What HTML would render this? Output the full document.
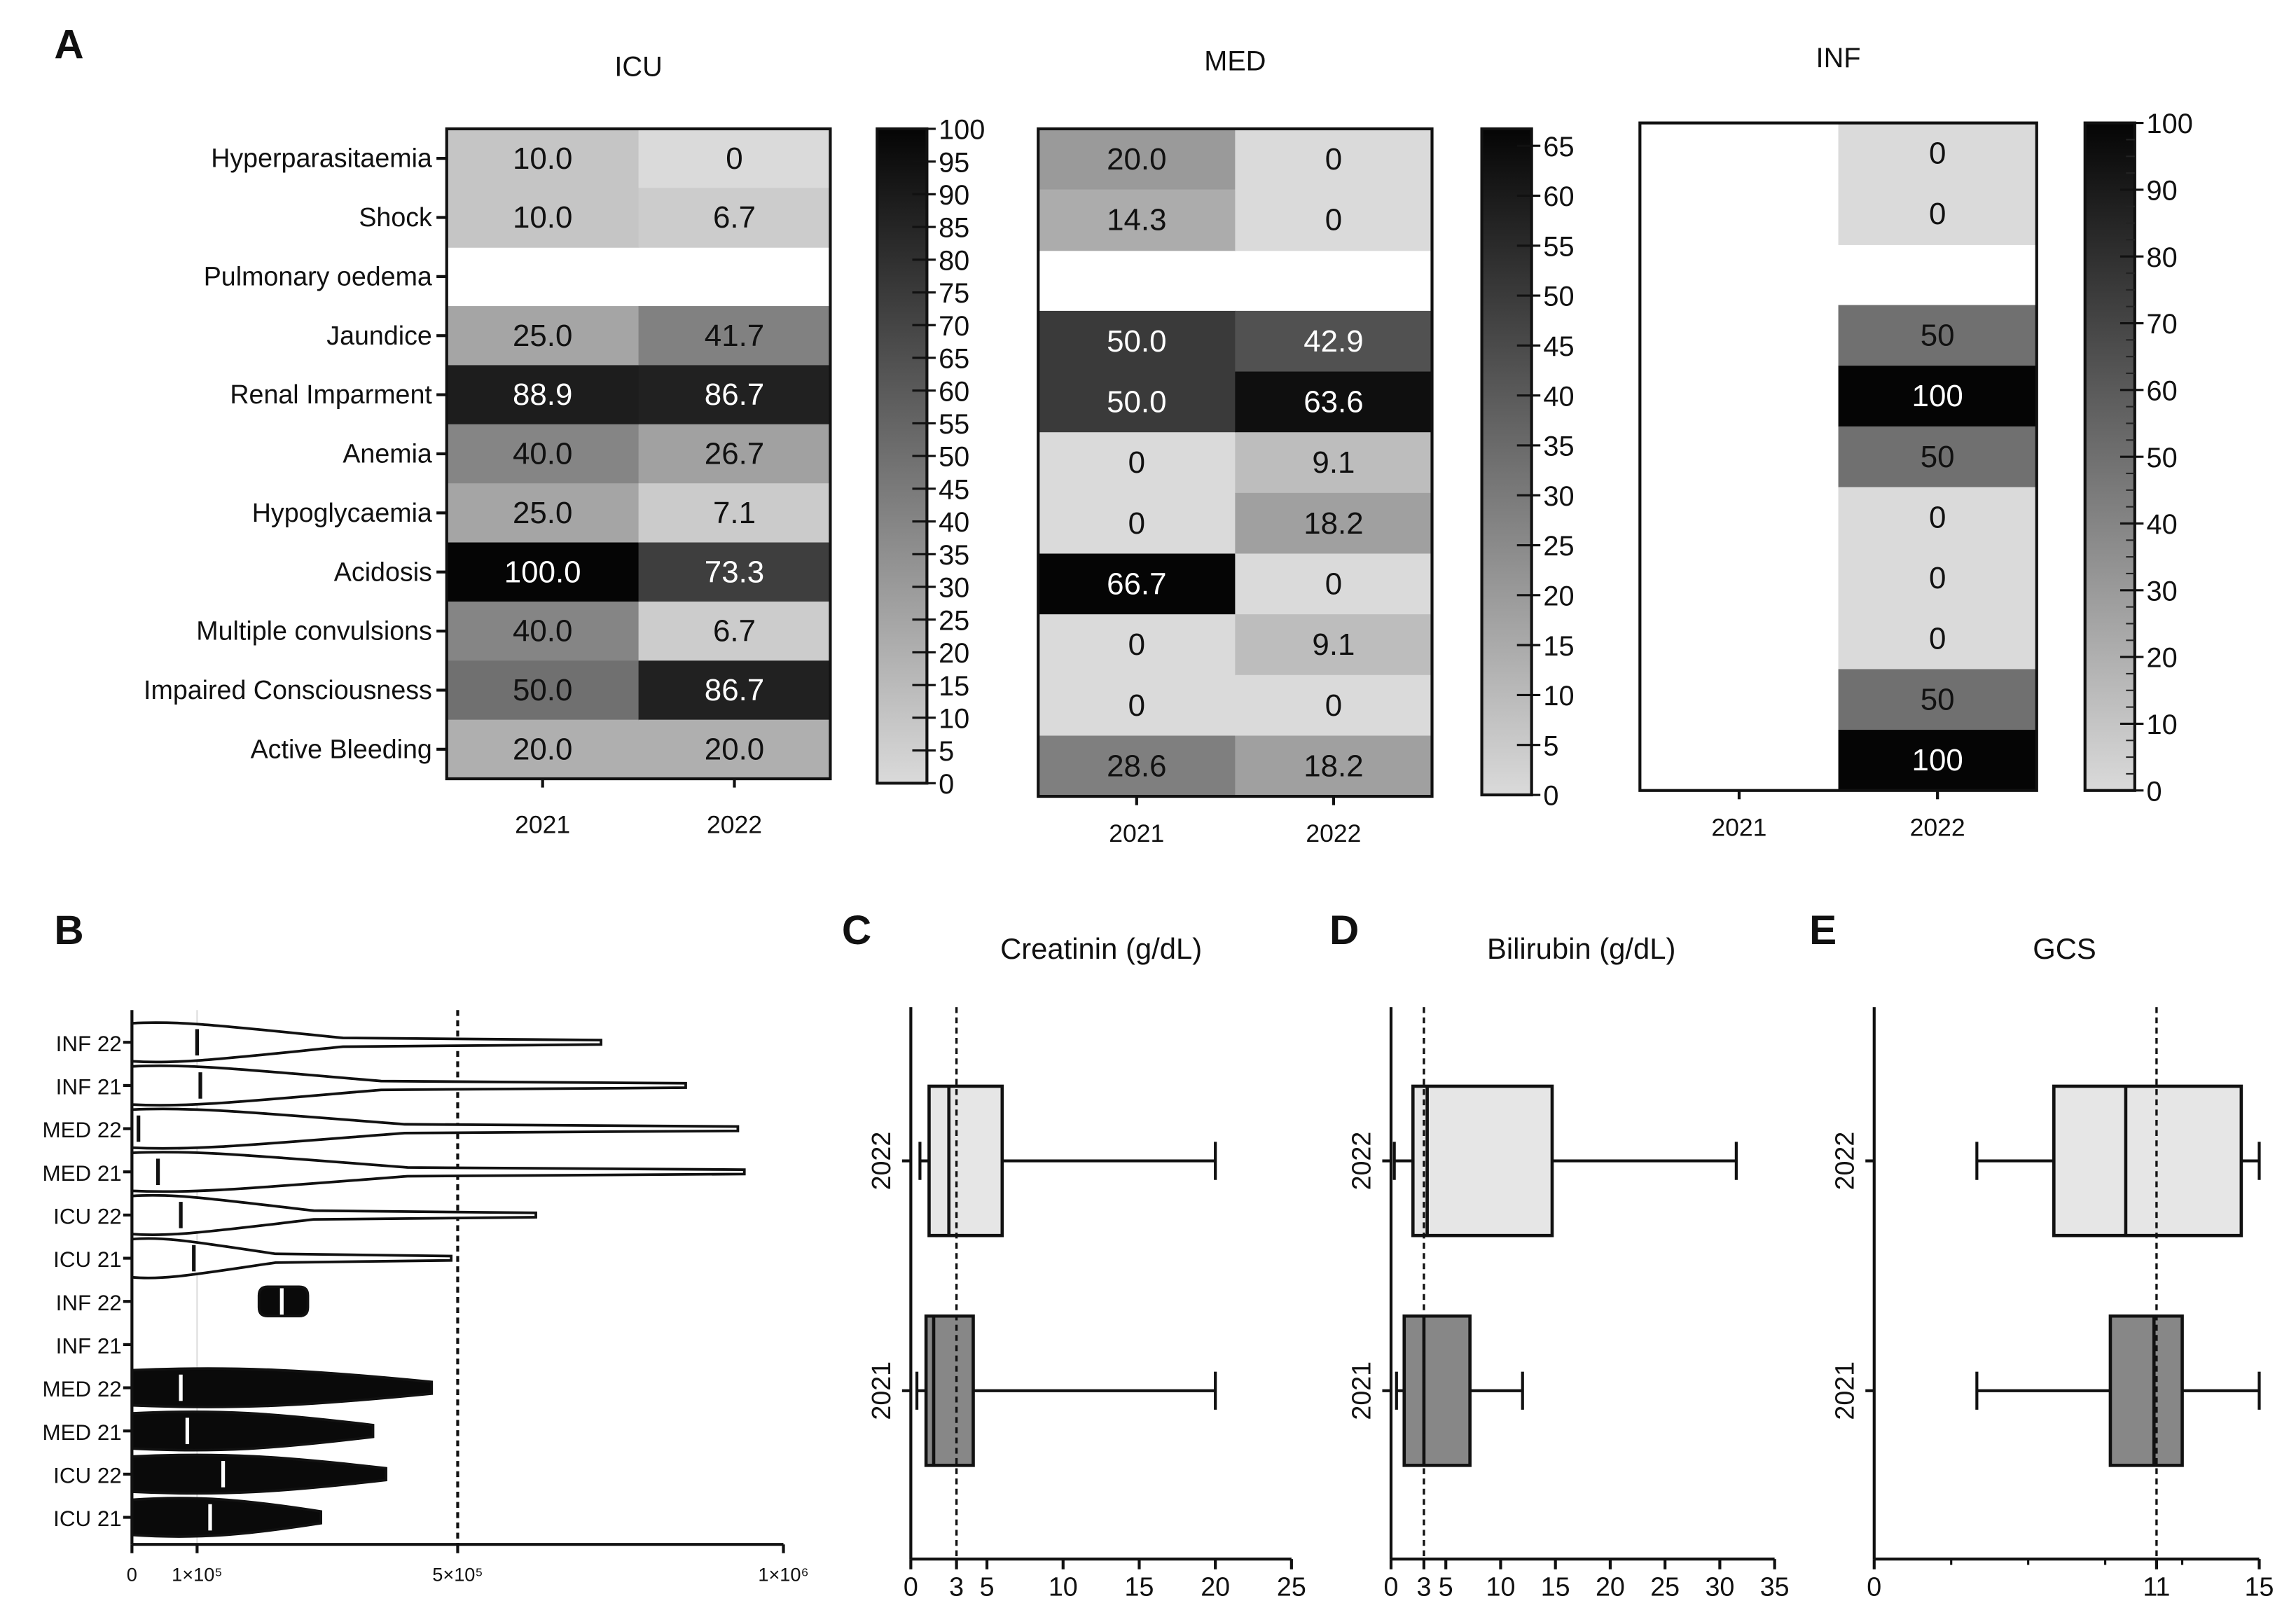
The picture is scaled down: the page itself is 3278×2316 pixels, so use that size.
<!DOCTYPE html>
<html><head><meta charset="utf-8"><style>
html,body{margin:0;padding:0;background:#fff}
svg{display:block}
text{font-family:"Liberation Sans",Arial,sans-serif;fill:#111}
</style></head><body>
<svg id="fig" xmlns="http://www.w3.org/2000/svg" width="3278" height="2316" viewBox="0 0 1568 1108">
<rect width="1568" height="1108" fill="#fff"/>
<g id="root"></g>
</svg>
<script>
const rowLabels=["Hyperparasitaemia","Shock","Pulmonary oedema","Jaundice","Renal Imparment","Anemia","Hypoglycaemia","Acidosis","Multiple convulsions","Impaired Consciousness","Active Bleeding"];
const yearLabels=["2021","2022"];
const icu2021=[10.0,10.0,null,25.0,88.9,40.0,25.0,100.0,40.0,50.0,20.0];
const icu2022=[0,6.7,null,41.7,86.7,26.7,7.1,73.3,6.7,86.7,20.0];
const med2021=[20.0,14.3,null,50.0,50.0,0,0,66.7,0,0,28.6];
const med2022=[0,0,null,42.9,63.6,9.1,18.2,0,9.1,0,18.2];
const inf2021=[null,null,null,null,null,null,null,null,null,null,null];
const inf2022=[0,0,null,50,100,50,0,0,0,50,100];
const violinLabels=["INF 22","INF 21","MED 22","MED 21","ICU 22","ICU 21","INF 22","INF 21","MED 22","MED 21","ICU 22","ICU 21"];
const violinMin=[0,0,0,0,0,0,195000,null,0,0,0,0];
const violinMax=[720000,850000,930000,940000,620000,490000,270000,null,460000,370000,390000,290000];
const violinMedian=[100000,105000,10000,40000,75000,95000,230000,null,75000,85000,140000,120000];
const creatYears=["2022","2021"];
const creatStats=[[0.6,1.2,2.5,6,20],[0.4,1.0,1.5,4.1,20]];
const biliStats=[[0.3,2,3.3,14.7,31.5],[0.5,1.2,3.0,7.2,12]];
const gcsStats=[[4,7,9.8,14.3,15],[4,9.2,10.9,12,15]];

const NS="http://www.w3.org/2000/svg";
const root=document.getElementById('root');
function mk(tag,attrs,parent,txt){const e=document.createElementNS(NS,tag);for(const k in attrs)e.setAttribute(k,attrs[k]);if(txt!==undefined)e.textContent=txt;(parent||root).appendChild(e);return e;}
function gray(v,max){const t=Math.max(0,Math.min(1,v/max));const c=Math.round(218-(218-5)*t);return `rgb(${c},${c},${c})`;}

[["A",47,40],["B",47,645],["C",585,645],["D",918,645],["E",1245,645]].forEach(l=>{
 const t=mk('text',{x:l[1],y:l[2],'font-size':28,'font-weight':'bold','text-anchor':'middle'},root,l[0]);
 
 
});

function heatmap(name,x0,y0,x1,y1,cols,max,title,titleY,cb,showLabels,xLabY,fmt){
 const g=mk('g',{});
 
 
 const rh=(y1-y0)/rowLabels.length, cw=(x1-x0)/cols.length;
 cols.forEach((col,ci)=>col.forEach((v,ri)=>{
  if(v===null)return;
  const r=mk('rect',{x:x0+ci*cw,y:y0+ri*rh,width:cw+0.5,height:rh+0.5,fill:gray(v,max)},g);
  
  
  const t=mk('text',{x:x0+ci*cw+cw/2,y:y0+ri*rh+rh/2+7,'font-size':21,'text-anchor':'middle',style:'fill:'+(v/max>0.5?'#fff':'#111')},g,fmt(v));
  
  
 }));
 mk('rect',{x:x0,y:y0,width:x1-x0,height:y1-y0,fill:'none',stroke:'#111','stroke-width':2},g);
 const tt=mk('text',{x:(x0+x1)/2,y:titleY,'font-size':19,'text-anchor':'middle'},g,title);
 
 
 if(showLabels){rowLabels.forEach((l,i)=>{
  const yy=y0+i*rh+rh/2;
  mk('line',{x1:x0-7,x2:x0,y1:yy,y2:yy,stroke:'#111','stroke-width':2},g);
  const t=mk('text',{x:x0-10,y:yy+6,'font-size':18,'text-anchor':'end'},g,l);
  
  
 });}
 yearLabels.forEach((l,i)=>{
  const xx=x0+i*cw+cw/2;
  mk('line',{x1:xx,x2:xx,y1:y1,y2:y1+6,stroke:'#111','stroke-width':2},g);
  const t=mk('text',{x:xx,y:xLabY,'font-size':17,'text-anchor':'middle'},g,l);
  
  
 });
 const [cx,cy0,cy1,cmax,step,minorStep]=cb;
 const gid='grad'+name;
 const defs=mk('defs',{},g);
 const lg=mk('linearGradient',{id:gid,x1:0,y1:1,x2:0,y2:0},defs);
 mk('stop',{offset:0,'stop-color':gray(0,1)},lg);mk('stop',{offset:1,'stop-color':gray(1,1)},lg);
 const cbr=mk('rect',{x:cx,y:cy0,width:34,height:cy1-cy0,fill:`url(#${gid})`,stroke:'#111','stroke-width':2},g);
 
 
 const ys=v=>cy1-(v/cmax)*(cy1-cy0);
 for(let v=0;v<=cmax+1e-9;v+=minorStep){mk('line',{x1:cx+28,x2:cx+34,y1:ys(v),y2:ys(v),stroke:'#222','stroke-width':1},g);}
 for(let v=0;v<=cmax+1e-9;v+=step){
  if(ys(v)<cy0-1)continue;
  mk('line',{x1:cx+24,x2:cx+40,y1:ys(v),y2:ys(v),stroke:'#111','stroke-width':1.5},g);
  const t=mk('text',{x:cx+42,y:ys(v)+7,'font-size':19},g,String(v));
  
  
 }
}
const f1=v=>v===0?"0":v.toFixed(1);
heatmap('icu',305,88,567,532,[icu2021,icu2022],100,'ICU',52,[599,88,535,100,5,5],true,569,f1);
heatmap('med',709,88,978,544,[med2021,med2022],66.7,'MED',48,[1012,88,543,66.7,5,5],false,575,f1);
heatmap('inf',1120,84,1391,540,[inf2021,inf2022],100,'INF',46,[1424,84,540,100,10,2.5],false,571,v=>String(v));

(function(){
 const g=mk('g',{});
 
 
 const X0=90,X1=535,Y0=690,Y1=1055;
 const xs=v=>X0+v/1e6*(X1-X0);
 const rowY=i=>712+i*29.5;
 mk('line',{x1:xs(1e5),x2:xs(1e5),y1:Y0,y2:Y1,stroke:'#ddd','stroke-width':1},g);
 mk('line',{x1:xs(5e5),x2:xs(5e5),y1:Y0,y2:Y1,stroke:'#111','stroke-width':2,'stroke-dasharray':'4,3'},g);
 violinLabels.forEach((l,i)=>{
  const y=rowY(i);
  mk('line',{x1:X0-6,x2:X0,y1:y,y2:y,stroke:'#111','stroke-width':2},g);
  const t=mk('text',{x:X0-7,y:y+6,'font-size':15,'text-anchor':'end'},g,l);
  
  
  if(violinMin[i]===null)return;
  const a=xs(violinMin[i]),b=xs(violinMax[i]),m=xs(violinMedian[i]);
  const dark=i>=6;let d;
  if(i===6){d=`M${a+6},${y-10} H${b-6} Q${b},${y-10} ${b},${y-4} V${y+4} Q${b},${y+10} ${b-6},${y+10} H${a+6} Q${a},${y+10} ${a},${y+4} V${y-4} Q${a},${y-10} ${a+6},${y-10}Z`;}
  else if(dark){const w=b-a;d=`M${a},${y-12} C${a+w*0.35},${y-15} ${a+w*0.6},${y-12} ${b},${y-4} V${y+4} C${a+w*0.6},${y+12} ${a+w*0.35},${y+15} ${a},${y+12}Z`;}
  else{const w=b-a;d=`M${a},${y-13} C${a+w*0.1},${y-15} ${a+w*0.2},${y-11} ${a+w*0.45},${y-3} L${b},${y-1.5} V${y+1.5} L${a+w*0.45},${y+3} C${a+w*0.2},${y+11} ${a+w*0.1},${y+15} ${a},${y+13}Z`;}
  const p=mk('path',{d:d,fill:dark?'#0a0a0a':'#fff',stroke:'#111','stroke-width':1.8},g);
  
  
  mk('line',{x1:m,x2:m,y1:y-9,y2:y+9,stroke:dark?'#fff':'#111','stroke-width':2.5},g);
 });
 mk('line',{x1:X0,x2:X0,y1:Y0,y2:Y1,stroke:'#111','stroke-width':2},g);
 mk('line',{x1:X0,x2:X1,y1:Y1,y2:Y1,stroke:'#111','stroke-width':2},g);
 [[0,"0"],[1e5,"1×10⁵"],[5e5,"5×10⁵"],[1e6,"1×10⁶"]].forEach(tk=>{
  mk('line',{x1:xs(tk[0]),x2:xs(tk[0]),y1:Y1,y2:Y1+6,stroke:'#111','stroke-width':2},g);
  const t=mk('text',{x:xs(tk[0]),y:Y1+25,'font-size':13,'text-anchor':'middle'},g,tk[1]);
  
  
 });
})();

function boxPanel(name,X0,X1,max,ticks,minor,ref,stats,title,titleX){
 const g=mk('g',{});
 
 
 const Y0=688,Y1=1065;
 const xs=v=>X0+v/max*(X1-X0);
 const cys=[793,950],fills=['#e6e6e6','#878787'];
 const tt=mk('text',{x:titleX,y:655,'font-size':20,'text-anchor':'middle'},g,title);
 
 
 stats.forEach((s,i)=>{
  const c=cys[i];
  mk('line',{x1:X0-6,x2:X0,y1:c,y2:c,stroke:'#111','stroke-width':2},g);
  const yl=mk('text',{x:0,y:0,'font-size':18,'text-anchor':'middle',transform:`translate(${X0-14},${c}) rotate(-90)`},g,creatYears[i]);
  
  
  mk('line',{x1:xs(s[0]),x2:xs(s[1]),y1:c,y2:c,stroke:'#111','stroke-width':2},g);
  mk('line',{x1:xs(s[3]),x2:xs(s[4]),y1:c,y2:c,stroke:'#111','stroke-width':2},g);
  mk('line',{x1:xs(s[0]),x2:xs(s[0]),y1:c-13,y2:c+13,stroke:'#111','stroke-width':2},g);
  mk('line',{x1:xs(s[4]),x2:xs(s[4]),y1:c-13,y2:c+13,stroke:'#111','stroke-width':2},g);
  const b=mk('rect',{x:xs(s[1]),y:c-51,width:xs(s[3])-xs(s[1]),height:102,fill:fills[i],stroke:'#111','stroke-width':2.2},g);
  
  
  mk('line',{x1:xs(s[2]),x2:xs(s[2]),y1:c-51,y2:c+51,stroke:'#111','stroke-width':2.2},g);
 });
 mk('line',{x1:xs(ref),x2:xs(ref),y1:Y0,y2:Y1,stroke:'#111','stroke-width':1.6,'stroke-dasharray':'4,3'},g);
 mk('line',{x1:X0,x2:X0,y1:Y0,y2:Y1,stroke:'#111','stroke-width':2},g);
 mk('line',{x1:X0,x2:X1,y1:Y1,y2:Y1,stroke:'#111','stroke-width':2},g);
 minor.forEach(v=>mk('line',{x1:xs(v),x2:xs(v),y1:Y1,y2:Y1+4,stroke:'#111','stroke-width':1.5},g));
 ticks.forEach(v=>{
  mk('line',{x1:xs(v),x2:xs(v),y1:Y1,y2:Y1+7,stroke:'#111','stroke-width':2},g);
  const t=mk('text',{x:xs(v),y:Y1+25,'font-size':18,'text-anchor':'middle'},g,String(v));
  
  
 });
}
boxPanel('creatinin',622,882,25,[0,3,5,10,15,20,25],[],3,creatStats,'Creatinin (g/dL)',752);
boxPanel('bilirubin',950,1212,35,[0,3,5,10,15,20,25,30,35],[],3,biliStats,'Bilirubin (g/dL)',1080);
boxPanel('gcs',1280,1543,15,[0,11,15],[3,6,9,12],11,gcsStats,'GCS',1410);
</script>
</body></html>
